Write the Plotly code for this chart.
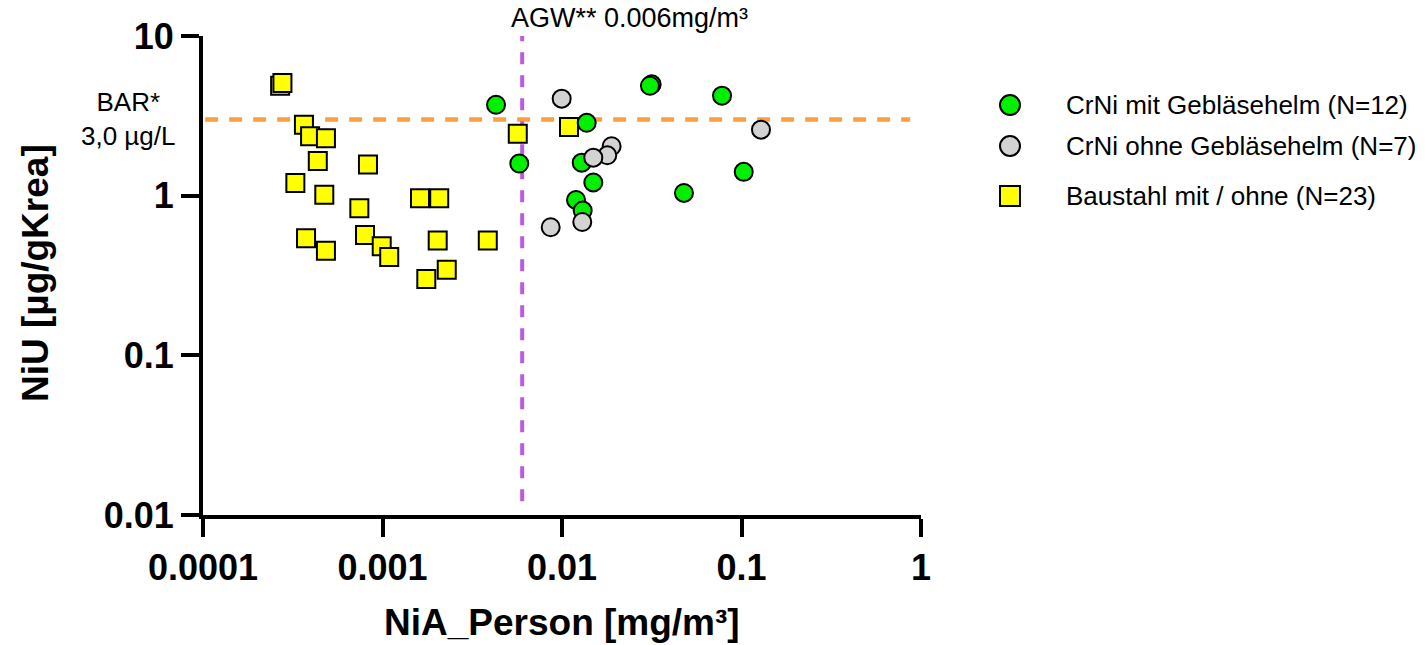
import plotly.graph_objects as go

# ---- data ----
green_x = [0.00429, 0.00578, 0.01373, 0.01288, 0.01494, 0.01197, 0.01304, 0.0316, 0.0309, 0.0779, 0.1029, 0.0478]
green_y = [3.71, 1.59, 2.86, 1.61, 1.21, 0.94, 0.806, 4.98, 4.88, 4.23, 1.41, 1.04]

grey_x = [0.00996, 0.0189, 0.01788, 0.01494, 0.01297, 0.00865, 0.1284]
grey_y = [4.05, 2.04, 1.79, 1.73, 0.684, 0.634, 2.59]

yellow_x = [0.000269, 0.000277, 0.000365, 0.000395, 0.000484, 0.000436, 0.00083, 0.000327,
            0.000474, 0.000743, 0.001618, 0.00207, 0.000375, 0.000484, 0.000799, 0.00099,
            0.00109, 0.00203, 0.00386, 0.00228, 0.001754, 0.00567, 0.01094]
yellow_y = [4.88, 5.08, 2.78, 2.36, 2.29, 1.65, 1.57, 1.20,
            1.015, 0.834, 0.963, 0.963, 0.541, 0.452, 0.567, 0.482,
            0.413, 0.523, 0.523, 0.343, 0.301, 2.44, 2.69]

names = ["CrNi mit Gebläsehelm (N=12)", "CrNi ohne Gebläsehelm (N=7)", "Baustahl mit / ohne (N=23)"]
colors = ["#00F000", "#D3D3D3", "#FFFF00"]
symbols = ["circle", "circle", "square"]

x_tickvals = [0.0001, 0.001, 0.01, 0.1, 1]
x_ticktext = ["0.0001", "0.001", "0.01", "0.1", "1"]
y_tickvals = [0.01, 0.1, 1, 10]
y_ticktext = ["0.01", "0.1", "1", "10"]

bar_value = 3.0
agw_value = 0.006

FONT = "Liberation Sans, Arial, Helvetica, sans-serif"

# layout geometry (pixels)
W, H = 1427, 645
L, R, T, B = 203, 506, 36, 130
PW, PH = W - L - R, H - T - B


def px(xp):
    return (xp - L) / PW


def py(yp):
    return (H - B - yp) / PH


fig = go.Figure()

for xs, ys, i in [(yellow_x, yellow_y, 2), (green_x, green_y, 0), (grey_x, grey_y, 1)]:
    fig.add_trace(go.Scatter(
        x=xs, y=ys, mode="markers", name=names[i], showlegend=False,
        marker=dict(symbol=symbols[i], size=18, color=colors[i], line=dict(color="black", width=2)),
    ))

# reference lines
fig.add_shape(type="line", xref="paper", yref="y", x0=0.003, x1=0.985,
              y0=bar_value, y1=bar_value, layer="below",
              line=dict(color="#F9A040", width=4.5, dash="13px,11px"))
fig.add_shape(type="line", xref="x", yref="y", x0=agw_value, x1=agw_value,
              y0=0.0122, y1=10, layer="below",
              line=dict(color="#B85CE0", width=4, dash="12px,11px"))

fig.add_annotation(xref="paper", yref="paper", x=px(629.5), y=py(18),
                   text="AGW** 0.006mg/m³", showarrow=False,
                   font=dict(family=FONT, size=27, color="black"),
                   xanchor="center", yanchor="middle")
fig.add_annotation(xref="paper", yref="paper", x=px(128), y=py(119),
                   text="BAR*<br>3,0 µg/L", showarrow=False, align="center",
                   font=dict(family=FONT, size=26, color="black"),
                   xanchor="center", yanchor="middle")

# axis titles
fig.add_annotation(xref="paper", yref="paper", x=0.5, y=py(622),
                   text="<b>NiA_Person [mg/m³]</b>", showarrow=False,
                   font=dict(family=FONT, size=37, color="black"),
                   xanchor="center", yanchor="middle")
fig.add_annotation(xref="paper", yref="paper", x=px(35), y=py(273),
                   text="<b>NiU [µg/gKrea]</b>", showarrow=False, textangle=-90,
                   font=dict(family=FONT, size=37, color="black"),
                   xanchor="center", yanchor="middle")

# manual legend
leg_rows = [105, 146, 196]
leg_mx, leg_tx, half = 1010, 1064, 10
for i, yr in enumerate(leg_rows):
    fig.add_shape(type="circle" if symbols[i] == "circle" else "rect",
                  xref="paper", yref="paper",
                  x0=px(leg_mx - half), x1=px(leg_mx + half),
                  y0=py(yr + half), y1=py(yr - half),
                  fillcolor=colors[i], line=dict(color="black", width=2))
    fig.add_annotation(xref="paper", yref="paper", x=px(leg_tx), y=py(yr),
                       text=names[i], showarrow=False,
                       font=dict(family=FONT, size=26, color="black"),
                       xanchor="left", yanchor="middle")

axis_common = dict(
    showgrid=False, zeroline=False, showline=True, linecolor="black", linewidth=4,
    ticks="outside", ticklen=18, tickwidth=4, tickcolor="black",
    tickfont=dict(family=FONT, size=36, color="black", weight="bold"),
)

fig.update_xaxes(type="log", range=[-4, 0], tickvals=x_tickvals, ticktext=x_ticktext, **axis_common)
fig.update_yaxes(type="log", range=[-2, 1], tickvals=y_tickvals, ticktext=y_ticktext, **axis_common)

fig.update_layout(
    width=W, height=H,
    margin=dict(l=L, r=R, t=T, b=B, pad=0),
    plot_bgcolor="white", paper_bgcolor="white",
    showlegend=False,
)

fig.write_html("out.html")
